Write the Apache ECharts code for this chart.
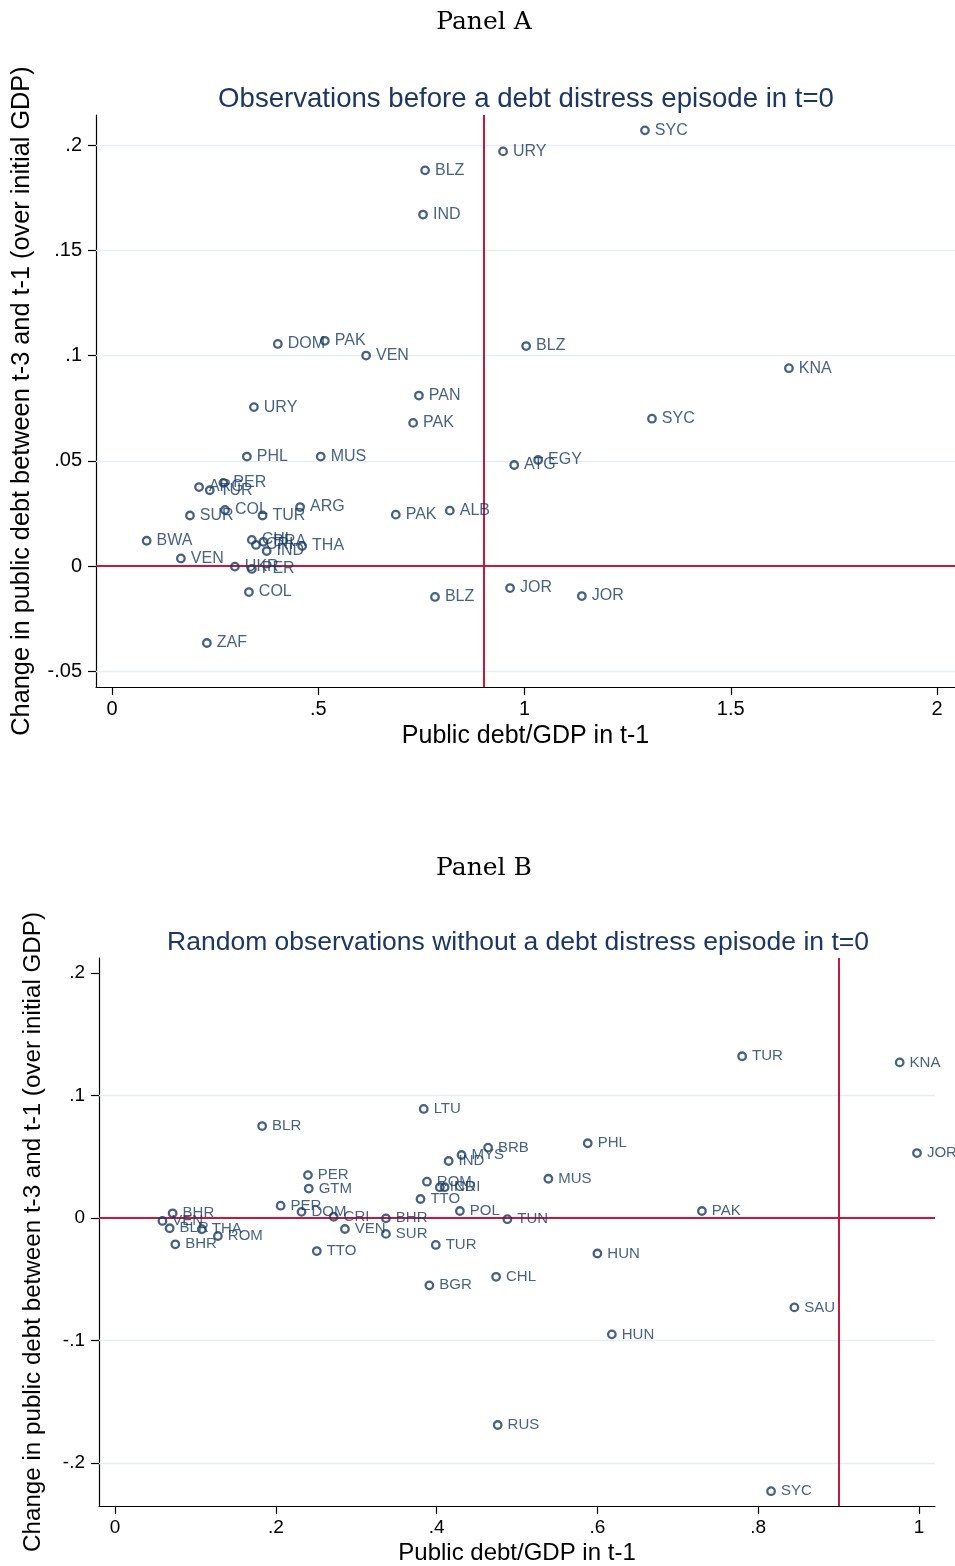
<!DOCTYPE html>
<html>
<head>
<meta charset="utf-8">
<script src="https://cdn.jsdelivr.net/npm/echarts@6/dist/echarts.min.js"></script>
<style>
  html, body { margin: 0; padding: 0; background: #fff; }
  #chart { width: 955px; height: 1566px; }
</style>
</head>
<body>
<div id="chart"></div>
<script>
// Panel A: observations before a debt distress episode
const A_CODES = ['SYC','URY','BLZ','IND','DOM','PAK','VEN','BLZ','KNA','PAN',
                 'PAK','SYC','URY','PHL','MUS','ATG','EGY','ARG','TUR','PER',
                 'SUR','COL','TUR','ARG','PAK','ALB','BWA','VEN','CHL','CRI',
                 'BRA','IND','THA','UKR','PER','COL','BLZ','JOR','JOR','ZAF'];
const A_DEBT   = [1.292, 0.948, 0.759, 0.754, 0.402, 0.516, 0.616, 1.004, 1.641, 0.744,
                  0.730, 1.309, 0.344, 0.327, 0.506, 0.975, 1.033, 0.211, 0.237, 0.270,
                  0.189, 0.274, 0.365, 0.456, 0.688, 0.819, 0.084, 0.167, 0.339, 0.349,
                  0.367, 0.375, 0.461, 0.298, 0.339, 0.332, 0.783, 0.965, 1.139, 0.230];
const A_CHANGE = [0.207, 0.197, 0.188, 0.167, 0.1055, 0.107, 0.100, 0.1045, 0.094, 0.081,
                  0.068, 0.070, 0.0755, 0.052, 0.052, 0.048, 0.0504, 0.0375, 0.036, 0.0395,
                  0.024, 0.0266, 0.024, 0.028, 0.0244, 0.0263, 0.012, 0.0036, 0.0124, 0.010,
                  0.0115, 0.0071, 0.0095, -0.0003, -0.0014, -0.0124, -0.0147, -0.0105, -0.0143, -0.0366];

// Panel B: random observations without a debt distress episode
const B_CODES = ['TUR','KNA','JOR','LTU','BLR','PHL','MUS','PAK','HUN','HUN',
                 'SAU','RUS','SYC','CHL','BGR','TTO','TUR','PER','GTM','PER',
                 'DOM','CRI','VEN','BHR','SUR','TTO','ROM','IND','CRI','POL',
                 'TUN','IND','MYS','BRB','BHR','VEN','BLR','THA','ROM','BHR'];
const B_DEBT   = [0.780, 0.976, 0.9975, 0.384, 0.183, 0.588, 0.539, 0.730, 0.600, 0.618,
                  0.845, 0.476, 0.816, 0.474, 0.391, 0.251, 0.399, 0.240, 0.241, 0.206,
                  0.232, 0.272, 0.286, 0.337, 0.337, 0.380, 0.388, 0.404, 0.410, 0.429,
                  0.488, 0.415, 0.431, 0.464, 0.0717, 0.059, 0.068, 0.108, 0.128, 0.075];
const B_CHANGE = [0.132, 0.127, 0.053, 0.089, 0.075, 0.061, 0.032, 0.0057, -0.029, -0.095,
                  -0.073, -0.169, -0.223, -0.048, -0.055, -0.027, -0.022, 0.035, 0.024, 0.010,
                  0.005, 0.001, -0.009, -0.0003, -0.013, 0.0155, 0.0296, 0.0251, 0.0251, 0.0057,
                  -0.001, 0.0465, 0.0514, 0.0574, 0.0038, -0.0024, -0.0084, -0.0092, -0.0147, -0.0215];

// Axis ticks, grid lines and reference lines
const A_XTICKS = [0, 0.5, 1, 1.5, 2];
const A_YTICKS = [-0.05, 0, 0.05, 0.1, 0.15, 0.2];
const A_YGRID  = [-0.05, 0.05, 0.1, 0.15, 0.2];
const B_XTICKS = [0, 0.2, 0.4, 0.6, 0.8, 1];
const B_YTICKS = [-0.2, -0.1, 0, 0.1, 0.2];
const B_YGRID  = [-0.2, -0.1, 0.1];
const DEBT_THRESHOLD = 0.9;

const NAVY = '#163a64';
const TITLE_NAVY = '#1c3763';
const RED = '#c8173a';
const GRID_CLR = '#e6eef2';
const SANS = 'Liberation Sans, Arial, Helvetica, sans-serif';
const SERIF = 'DejaVu Serif, Liberation Serif, serif';

// Stata-style numbers: drop the leading zero (".5", "-.05")
function stataNum(v) {
  const s = String(parseFloat(v.toFixed(4)));
  return s.replace(/^0\./, '.').replace(/^-0\./, '-.');
}

function points(codes, xs, ys) {
  return codes.map((c, i) => ({ name: c, value: [xs[i], ys[i]] }));
}

function xAxisFor(gridIndex, min, max, ticks, fs, nameGap, nameFs) {
  return {
    type: 'value', gridIndex, min, max,
    name: 'Public debt/GDP in t-1', nameLocation: 'middle', nameGap,
    nameTextStyle: { fontFamily: SANS, fontSize: nameFs, color: '#000' },
    axisLine: { show: true, onZero: false, lineStyle: { color: '#000', width: 1.2 } },
    axisTick: { show: true, length: 8, customValues: ticks, lineStyle: { color: '#000', width: 1.2 } },
    axisLabel: { customValues: ticks, formatter: stataNum, margin: 12,
                 fontFamily: SANS, fontSize: fs, color: '#000' },
    splitLine: { show: false }
  };
}

function yAxisFor(gridIndex, min, max, ticks, fs, nameGap, nameFs) {
  return {
    type: 'value', gridIndex, min, max,
    name: 'Change in public debt between t-3 and t-1 (over initial GDP)',
    nameLocation: 'middle', nameGap,
    nameTextStyle: { fontFamily: SANS, fontSize: nameFs, color: '#000' },
    axisLine: { show: true, onZero: false, lineStyle: { color: '#000', width: 1.2 } },
    axisTick: { show: true, length: 8, customValues: ticks, lineStyle: { color: '#000', width: 1.2 } },
    axisLabel: { customValues: ticks, formatter: stataNum, margin: 14,
                 fontFamily: SANS, fontSize: fs, color: '#000' },
    splitLine: { show: false }
  };
}

function scatterFor(idx, data, labelFs) {
  return {
    type: 'scatter', xAxisIndex: idx, yAxisIndex: idx,
    data, clip: false, z: 5,
    symbol: 'circle', symbolSize: 7.5,
    itemStyle: { color: 'rgba(255,255,255,0)', borderColor: NAVY, borderWidth: 2.3 },
    label: { show: true, position: 'right', distance: 5, formatter: p => p.name,
             fontFamily: SANS, fontSize: labelFs, color: NAVY },
    emphasis: { disabled: true },
    silent: true
  };
}

function gridLinesFor(idx, values) {
  return {
    type: 'scatter', xAxisIndex: idx, yAxisIndex: idx, data: [], z: 1, silent: true,
    markLine: {
      silent: true, symbol: 'none', animation: false,
      label: { show: false },
      lineStyle: { color: GRID_CLR, width: 1.3, type: 'solid' },
      data: values.map(v => ({ yAxis: v }))
    }
  };
}

function refLinesFor(idx) {
  return {
    type: 'scatter', xAxisIndex: idx, yAxisIndex: idx, data: [], z: 3, silent: true,
    markLine: {
      silent: true, symbol: 'none', animation: false,
      label: { show: false },
      lineStyle: { color: RED, width: 2, type: 'solid' },
      data: [{ xAxis: DEBT_THRESHOLD }, { yAxis: 0 }]
    }
  };
}

const chart = echarts.init(document.getElementById('chart'), null, { renderer: 'canvas' });

chart.setOption({
  backgroundColor: '#fff',
  animation: false,
  title: [
    { text: 'Panel A', left: 479, textAlign: 'center', top: 5,
      textStyle: { fontFamily: SERIF, fontSize: 25, fontWeight: 'normal', color: '#000' } },
    { text: 'Observations before a debt distress episode in t=0', left: 521, textAlign: 'center', top: 80,
      textStyle: { fontFamily: SANS, fontSize: 27.6, fontWeight: 'normal', color: TITLE_NAVY } },
    { text: 'Panel B', left: 479, textAlign: 'center', top: 851,
      textStyle: { fontFamily: SERIF, fontSize: 25, fontWeight: 'normal', color: '#000' } },
    { text: 'Random observations without a debt distress episode in t=0', left: 513, textAlign: 'center', top: 924,
      textStyle: { fontFamily: SANS, fontSize: 26.5, fontWeight: 'normal', color: TITLE_NAVY } }
  ],
  grid: [
    { left: 96, top: 115, width: 859, height: 572, containLabel: false },
    { left: 99, top: 958, width: 836, height: 548, containLabel: false }
  ],
  xAxis: [
    xAxisFor(0, -0.0388, 2.0436, A_XTICKS, 20, 37, 25),
    xAxisFor(1, -0.0199, 1.0199, B_XTICKS, 19, 35, 24)
  ],
  yAxis: [
    yAxisFor(0, -0.0575, 0.2143, A_YTICKS, 20, 61, 25.3),
    yAxisFor(1, -0.2351, 0.2122, B_YTICKS, 19, 54, 24.2)
  ],
  series: [
    gridLinesFor(0, A_YGRID),
    gridLinesFor(1, B_YGRID),
    refLinesFor(0),
    refLinesFor(1),
    scatterFor(0, points(A_CODES, A_DEBT, A_CHANGE), 16),
    scatterFor(1, points(B_CODES, B_DEBT, B_CHANGE), 15)
  ]
});
</script>
</body>
</html>
